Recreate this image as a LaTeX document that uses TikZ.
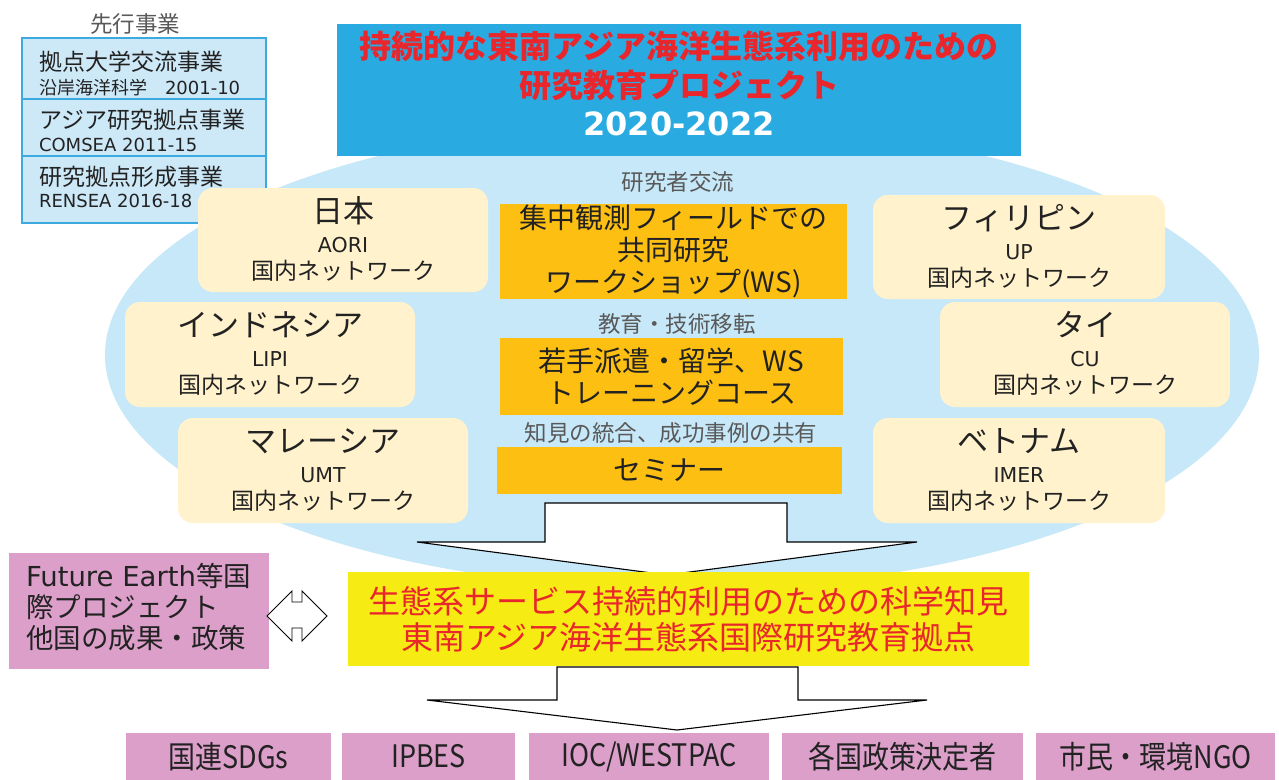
\documentclass[tikz,border=0pt]{standalone}
\usepackage{fontspec}
\usepackage{graphicx}
\setmainfont{Noto Sans CJK JP}
\newfontfamily\latf{DejaVu Sans}
\newcommand\Lat[1]{{\latf #1}}
\definecolor{ellc}{HTML}{C6E8F8}
\definecolor{titlebg}{HTML}{29ABE2}
\definecolor{titlered}{HTML}{E8262C}
\definecolor{cfill}{HTML}{FFF2CC}
\definecolor{ofill}{HTML}{FCBF12}
\definecolor{yfill}{HTML}{F6EB13}
\definecolor{pink}{HTML}{DB9FC9}
\definecolor{pfill}{HTML}{CDE9F8}
\definecolor{pline}{HTML}{3CA9E0}
\definecolor{ink}{HTML}{222222}
\definecolor{graytxt}{HTML}{595959}
\newcommand\myfs[2]{\fontsize{#1}{#2}\selectfont}
\newcommand\countrybox[7]{%
  \node[cbox, minimum width=#4, minimum height=#5] (#1) at (#2,#3) {};
  \node[ctitle] (#1-t) at ([yshift=-23]#1.north) {#6};
  \node[ccode] (#1-c) at ([yshift=-57]#1.north) {\Lat{#7}};
  \node[cnet] (#1-n) at ([yshift=-83]#1.north) {国内ネットワーク};
}
\begin{document}
\begin{tikzpicture}[x=1pt,y=-1pt,
  every node/.style={inner sep=0pt, outer sep=0pt},
  blk/.style={rectangle, anchor=north west},
  pbox/.style={blk, fill=pfill, draw=pline, line width=1.5pt},
  pl1/.style={anchor=west, text=ink, font=\myfs{23}{26}},
  pl2/.style={anchor=west, text=ink, font=\myfs{18}{22}},
  cbox/.style={blk, fill=cfill, rounded corners=15pt},
  ctitle/.style={text=ink, font=\myfs{31}{35}},
  ccode/.style={text=ink, font=\myfs{20.5}{24}},
  cnet/.style={text=ink, font=\myfs{23}{26}},
  obox/.style={blk, fill=ofill, text=ink, align=center, font=\myfs{28}{32}},
  lbl/.style={text=graytxt, font=\myfs{22.5}{25}},
  pbot/.style={blk, fill=pink, text=ink, font=\myfs{31}{34}},
  blockarrow/.style={fill=white, draw=black, line width=1.1pt, line join=miter}
]
\useasboundingbox[fill=white] (0,0) rectangle (1279,779);

% background ellipse
\fill[ellc] (682,355) ellipse [x radius=577, y radius=234];

% title
\node[blk, fill=titlebg, minimum width=684, minimum height=132] (title) at (337,24) {};
\node[text=titlered, align=center, font=\myfs{32}{39}\bfseries] (titletext) at (679,66)
  {持続的な東南アジア海洋生態系利用のための\\研究教育プロジェクト};
\node[text=white, font=\myfs{32}{38}\bfseries] (year) at (679,124) {\Lat{2020-2022}};

% prior projects
\node[lbl] (prior) at (135,24) {先行事業};
\node[pbox, minimum width=244, minimum height=61] (p1) at (22,38) {};
\node[pl1] (p1a) at (39,62) {拠点大学交流事業};
\node[pl2] (p1b) at (39,88) {沿岸海洋科学\hspace{18pt}\Lat{2001-10}};
\node[pbox, minimum width=244, minimum height=57] (p2) at (22,99) {};
\node[pl1] (p2a) at (39,120) {アジア研究拠点事業};
\node[pl2] (p2b) at (39,145) {\Lat{COMSEA 2011-15}};
\node[pbox, minimum width=244, minimum height=67] (p3) at (22,156) {};
\node[pl1] (p3a) at (39,177) {研究拠点形成事業};
\node[pl2] (p3b) at (39,201) {\Lat{RENSEA 2016-18}};

% country boxes
\countrybox{jp}{198}{188}{290}{104}{日本}{AORI}
\countrybox{ph}{873}{195}{292}{104}{フィリピン}{UP}
\countrybox{id}{125}{302}{290}{105}{インドネシア}{LIPI}
\countrybox{th}{940}{302}{290}{105}{タイ}{CU}
\countrybox{my}{178}{418}{290}{105}{マレーシア}{UMT}
\countrybox{vn}{873}{418}{292}{105}{ベトナム}{IMER}

% central activities
\node[lbl] (l1) at (678,182) {研究者交流};
\node[obox, minimum width=347, minimum height=95] (c1) at (500,204)
  {集中観測フィールドでの\\共同研究\\ワークショップ(WS)};
\node[lbl] (l2) at (677,324) {教育・技術移転};
\node[obox, minimum width=343, minimum height=77] (c2) at (500,338)
  {若手派遣・留学、WS\\トレーニングコース};
\node[lbl] (l3) at (671,433) {知見の統合、成功事例の共有};
\node[obox, minimum width=345, minimum height=47] (c3) at (497,447) {セミナー};

% block arrow 1
\draw[blockarrow] (545,503) -- (787,503) -- (787,542) -- (917,542) -- (667,575)
  -- (417,542) -- (545,542) -- cycle;

% yellow hub
\node[blk, fill=yfill, minimum width=681, minimum height=94, text=titlered,
  align=center, font=\myfs{32}{36}] (hub) at (348,572)
  {生態系サービス持続的利用のための科学知見\\東南アジア海洋生態系国際研究教育拠点};

% Future Earth
\node[blk, fill=pink, minimum width=260, minimum height=116] (fe) at (9,553) {};
\node[anchor=west, align=left, text=ink, font=\myfs{27.5}{31}] (fet) at (26,607)
  {\Lat{Future Earth}等国\\際プロジェクト\\他国の成果・政策};

% double arrow
\draw[fill=white, draw=black, line width=0.8pt, line join=miter]
  (267,616) -- (292,591) -- (292,602) -- (302,602) -- (302,591) -- (327,616)
  -- (302,641) -- (302,628) -- (292,628) -- (292,641) -- cycle;

% block arrow 2
\draw[blockarrow] (557,667) -- (798,667) -- (798,700) -- (927,700) -- (677,730)
  -- (427,700) -- (557,700) -- cycle;

% bottom targets
\node[pbot, minimum width=205, minimum height=47] (b1) at (126,733) {\scalebox{0.87}[1]{国連SDGs}};
\node[pbot, minimum width=173, minimum height=47] (b2) at (342,733) {\scalebox{0.87}[1]{IPBES}};
\node[pbot, minimum width=240, minimum height=47] (b3) at (529,733) {\scalebox{0.87}[1]{IOC/WESTPAC}};
\node[pbot, minimum width=241, minimum height=47] (b4) at (782,733) {\scalebox{0.87}[1]{各国政策決定者}};
\node[pbot, minimum width=239, minimum height=47] (b5) at (1036,733) {\scalebox{0.87}[1]{市民・環境NGO}};
\end{tikzpicture}
\end{document}
